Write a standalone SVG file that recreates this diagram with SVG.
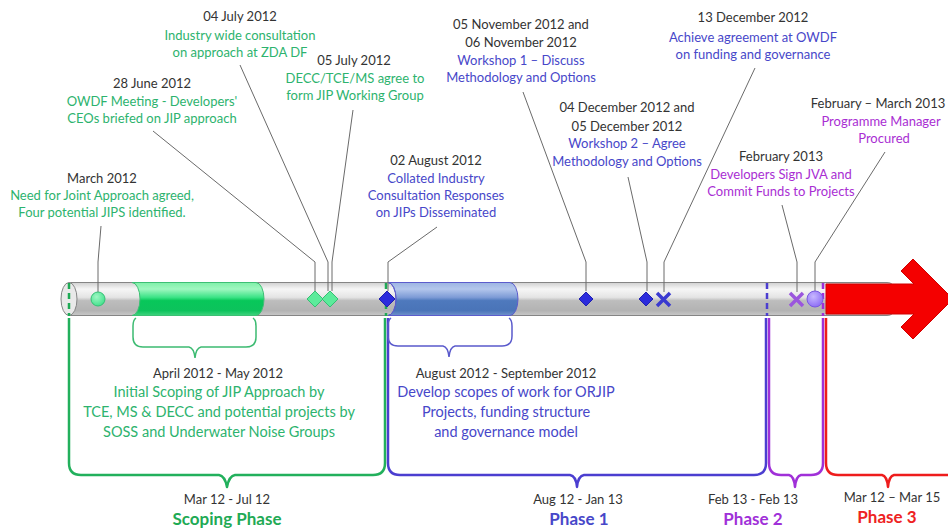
<svg xmlns="http://www.w3.org/2000/svg" width="948" height="529" viewBox="0 0 948 529">
<defs>
<linearGradient id="gBar" x1="0" y1="0" x2="0" y2="1">
<stop offset="0" stop-color="#d0d0d0"/><stop offset="0.2" stop-color="#f6f6f6"/><stop offset="0.45" stop-color="#e4e4e4"/><stop offset="0.55" stop-color="#bdbdbd"/><stop offset="0.85" stop-color="#b3b3b3"/><stop offset="1" stop-color="#c8c8c8"/>
</linearGradient>
<linearGradient id="gGreen" x1="0" y1="0" x2="0" y2="1">
<stop offset="0" stop-color="#7ff0a8"/><stop offset="0.2" stop-color="#9ff7c0"/><stop offset="0.45" stop-color="#3be386"/><stop offset="0.55" stop-color="#08c75a"/><stop offset="0.85" stop-color="#0cc35c"/><stop offset="1" stop-color="#3fd47e"/>
</linearGradient>
<linearGradient id="gBlue" x1="0" y1="0" x2="0" y2="1">
<stop offset="0" stop-color="#9cb4e2"/><stop offset="0.2" stop-color="#b3c6ec"/><stop offset="0.45" stop-color="#7d9bd6"/><stop offset="0.55" stop-color="#4e79bd"/><stop offset="0.85" stop-color="#4a74b8"/><stop offset="1" stop-color="#6f90cb"/>
</linearGradient>
<radialGradient id="gBall" cx="0.4" cy="0.35" r="0.7">
<stop offset="0" stop-color="#c8b8ff"/><stop offset="1" stop-color="#8a6af5"/>
</radialGradient>
<radialGradient id="gGBall" cx="0.4" cy="0.35" r="0.7">
<stop offset="0" stop-color="#9ff7c4"/><stop offset="1" stop-color="#3fe08a"/>
</radialGradient>
</defs>
<style>
text{font-family:Lato,"Liberation Sans",sans-serif;text-anchor:middle}
.d{fill:#333;font-size:13px}
.g{fill:#2db36e;font-size:13px}
.b{fill:#4747c9;font-size:13px}
.p{fill:#a92ed3;font-size:13px}
.gL{fill:#2db36e;font-size:14.5px}
.bL{fill:#4747c9;font-size:14.5px}
.dL{fill:#333;font-size:13px}
.ph{font-size:17px;font-weight:bold}
.lead{fill:none;stroke:#6a6a6a;stroke-width:1}
.br{fill:none;stroke-width:2.5;stroke-linejoin:round}
.sb{fill:none;stroke-width:1.5}
.dash{fill:none;stroke-width:2.5;stroke-dasharray:6 4}
</style>
<rect width="948" height="529" fill="#fff"/>

<g id="timeline-bar">
<path d="M69,282.5 L887,282.5 Q894,282.5 894,290 L894,308 Q894,315.5 887,315.5 L69,315.5 Z" fill="url(#gBar)" stroke="#858585" stroke-width="1"/>
<path d="M132,282.5 L256,282.5 A8,16.5 0 0 1 256,315.5 L132,315.5 A8,16.5 0 0 0 132,282.5 Z" fill="url(#gGreen)" stroke="#3dbf74" stroke-width="1"/>
<path d="M388,282.5 L510,282.5 A8,16.5 0 0 1 510,315.5 L388,315.5 A8,16.5 0 0 0 388,282.5 Z" fill="url(#gBlue)" stroke="#5c5ccc" stroke-width="1"/>
<path d="M388,282.5 A8,16.5 0 0 1 388,315.5" fill="none" stroke="#5c5ccc" stroke-width="1"/>
<ellipse cx="69" cy="299" rx="8" ry="16.5" fill="#e9e9e9" stroke="#858585" stroke-width="1"/>
</g>

<g id="phase-scoping">
<path class="dash" d="M69,283 L69,316" stroke="#1faa55"/>
<path class="dash" d="M386,283 L386,316" stroke="#1faa55"/>
<path class="br" stroke="#22b05c" d="M69,318 L69,463 Q69,475 81,475 L219,475 Q225,476 227,487 Q229,476 235,475 L373,475 Q385,475 385,463 L385,318"/>
<text class="dL" x="227" y="504">Mar 12 - Jul 12</text>
<text class="ph" x="227" y="525" fill="#1faa55">Scoping Phase</text>
</g>

<g id="phase-1">
<path class="br" stroke="#4b3ed0" d="M388,318 L388,463 Q388,475 400,475 L570,475 Q576,476 577,487 Q578,476 584,475 L754,475 Q766,475 766,463 L766,318"/>
<path class="dash" d="M767,283 L767,316" stroke="#4b3ed0"/>
<text class="dL" x="578" y="504">Aug 12 - Jan 13</text>
<text class="ph" x="579" y="525" fill="#4747c9">Phase 1</text>
</g>

<g id="phase-2">
<path class="br" stroke="#a030d8" d="M769,318 L769,463 Q769,475 781,475 L789,475 Q794,476 795,487 Q796,476 801,475 L811,475 Q823,475 823,463 L823,318"/>
<path class="dash" d="M823,283 L823,316" stroke="#a030d8"/>
<text class="dL" x="753" y="504">Feb 13 - Feb 13</text>
<text class="ph" x="753" y="525" fill="#a030d8">Phase 2</text>
</g>

<g id="phase-3">
<path class="br" stroke="#ee1c1c" d="M826,318 L826,463 Q826,475 838,475 L882,475 Q887,476 888,487 Q889,476 894,475 L950,475"/>
<polygon points="826,284 914,284 901,271 913,259 953,299 913,339 901,327 914,314 826,314" fill="#f40000" stroke="#d00000" stroke-width="1"/>
<text class="dL" x="892" y="502">Mar 12 – Mar 15</text>
<text class="ph" x="887" y="523" fill="#ee2222">Phase 3</text>
</g>

<g id="activity-scoping">
<path class="sb" stroke="#3dbb72" d="M136,318 Q133,320 133,326 L133,337 Q133,347 143,347 L189,347 Q194,348 195,358 Q196,348 201,347 L246,347 Q256,347 256,337 L256,326 Q256,320 253,318"/>
<text class="dL" x="218" y="378">April 2012 - May 2012</text>
<text class="gL" x="219" y="397">Initial Scoping of JIP Approach by</text>
<text class="gL" x="219" y="417">TCE, MS &amp; DECC and potential projects by</text>
<text class="gL" x="219" y="437">SOSS and Underwater Noise Groups</text>
</g>

<g id="activity-phase1">
<path class="sb" stroke="#5a5acc" d="M391,318 Q388,320 388,326 L388,336 Q388,346 398,346 L443,346 Q448,347 449,357 Q450,347 455,346 L502,346 Q512,346 512,336 L512,326 Q512,320 509,318"/>
<text class="dL" x="506" y="378">August 2012 - September 2012</text>
<text class="bL" x="506" y="397">Develop scopes of work for ORJIP</text>
<text class="bL" x="506" y="417">Projects, funding structure</text>
<text class="bL" x="506" y="437">and governance model</text>
</g>

<g id="connectors">
<path class="lead" d="M98,292 L98,262 L101,226"/>
<path class="lead" d="M153,131 L315,262 L315,291"/>
<path class="lead" d="M240,65 L328,262 L328,291"/>
<path class="lead" d="M353,110 L332,262 L332,291"/>
<path class="lead" d="M437,227 L388,262 L388,291"/>
<path class="lead" d="M523,92 L586,262 L586,291"/>
<path class="lead" d="M628,177 L647,262 L647,291"/>
<path class="lead" d="M755,68 L664,262 L664,292"/>
<path class="lead" d="M782,205 L797,262 L797,292"/>
<path class="lead" d="M885,152 L815,262 L815,291"/>
</g>

<g id="ev-march-2012">
<circle cx="98" cy="299" r="7" fill="url(#gGBall)" stroke="#35c075" stroke-width="1"/>
<text class="d" x="102" y="183">March 2012</text>
<text class="g" x="102" y="200">Need for Joint Approach agreed,</text>
<text class="g" x="102" y="217">Four potential JIPS identified.</text>
</g>

<g id="ev-28-june-2012">
<polygon points="315,291 323,299 315,307 307,299" fill="#5ceb9b" stroke="#35bf73" stroke-width="1"/>
<text class="d" x="152" y="88">28 June 2012</text>
<text class="g" x="152" y="106">OWDF Meeting - Developers'</text>
<text class="g" x="152" y="123">CEOs briefed on JIP approach</text>
</g>

<g id="ev-04-july-2012">
<polygon points="330,291 338,299 330,307 322,299" fill="#5ceb9b" stroke="#35bf73" stroke-width="1"/>
<text class="d" x="240" y="21">04 July 2012</text>
<text class="g" x="240" y="40">Industry wide consultation</text>
<text class="g" x="240" y="57">on approach at ZDA DF</text>
</g>

<g id="ev-05-july-2012">
<text class="d" x="354" y="65">05 July 2012</text>
<text class="g" x="355" y="83">DECC/TCE/MS agree to</text>
<text class="g" x="355" y="100">form JIP Working Group</text>
</g>

<g id="ev-02-august-2012">
<polygon points="387,291 395,299 387,307 379,299" fill="#2b2bdc" stroke="#2020b0" stroke-width="1"/>
<text class="d" x="436" y="165">02 August 2012</text>
<text class="b" x="436" y="183">Collated Industry</text>
<text class="b" x="436" y="200">Consultation Responses</text>
<text class="b" x="436" y="217">on JIPs Disseminated</text>
</g>

<g id="ev-workshop-1">
<polygon points="586,292 593,299 586,306 579,299" fill="#2b2bdc" stroke="#2020b0" stroke-width="1"/>
<text class="d" x="521" y="29">05 November 2012 and</text>
<text class="d" x="521" y="47">06 November 2012</text>
<text class="b" x="521" y="65">Workshop 1 – Discuss</text>
<text class="b" x="521" y="82">Methodology and Options</text>
</g>

<g id="ev-workshop-2">
<polygon points="646,292 653,299 646,306 639,299" fill="#2b2bdc" stroke="#2020b0" stroke-width="1"/>
<text class="d" x="627" y="112">04 December 2012 and</text>
<text class="d" x="627" y="131">05 December 2012</text>
<text class="b" x="627" y="148">Workshop 2 – Agree</text>
<text class="b" x="627" y="166">Methodology and Options</text>
</g>

<g id="ev-13-december-2012">
<path d="M657,293 L670,306 M670,293 L657,306" stroke="#3a3ad0" stroke-width="3.5" fill="none"/>
<text class="d" x="753" y="22">13 December 2012</text>
<text class="b" x="753" y="42">Achieve agreement at OWDF</text>
<text class="b" x="753" y="59">on funding and governance</text>
</g>

<g id="ev-february-2013">
<path d="M790,293 L803,306 M803,293 L790,306" stroke="#9a55dd" stroke-width="3.5" fill="none"/>
<text class="d" x="781" y="161">February 2013</text>
<text class="p" x="781" y="179">Developers Sign JVA and</text>
<text class="p" x="781" y="196">Commit Funds to Projects</text>
</g>

<g id="ev-programme-manager">
<circle cx="815" cy="299" r="8" fill="url(#gBall)" stroke="#7a5ae0" stroke-width="1"/>
<text class="d" x="878" y="108">February – March 2013</text>
<text class="p" x="881" y="126">Programme Manager</text>
<text class="p" x="884" y="143">Procured</text>
</g>
</svg>
